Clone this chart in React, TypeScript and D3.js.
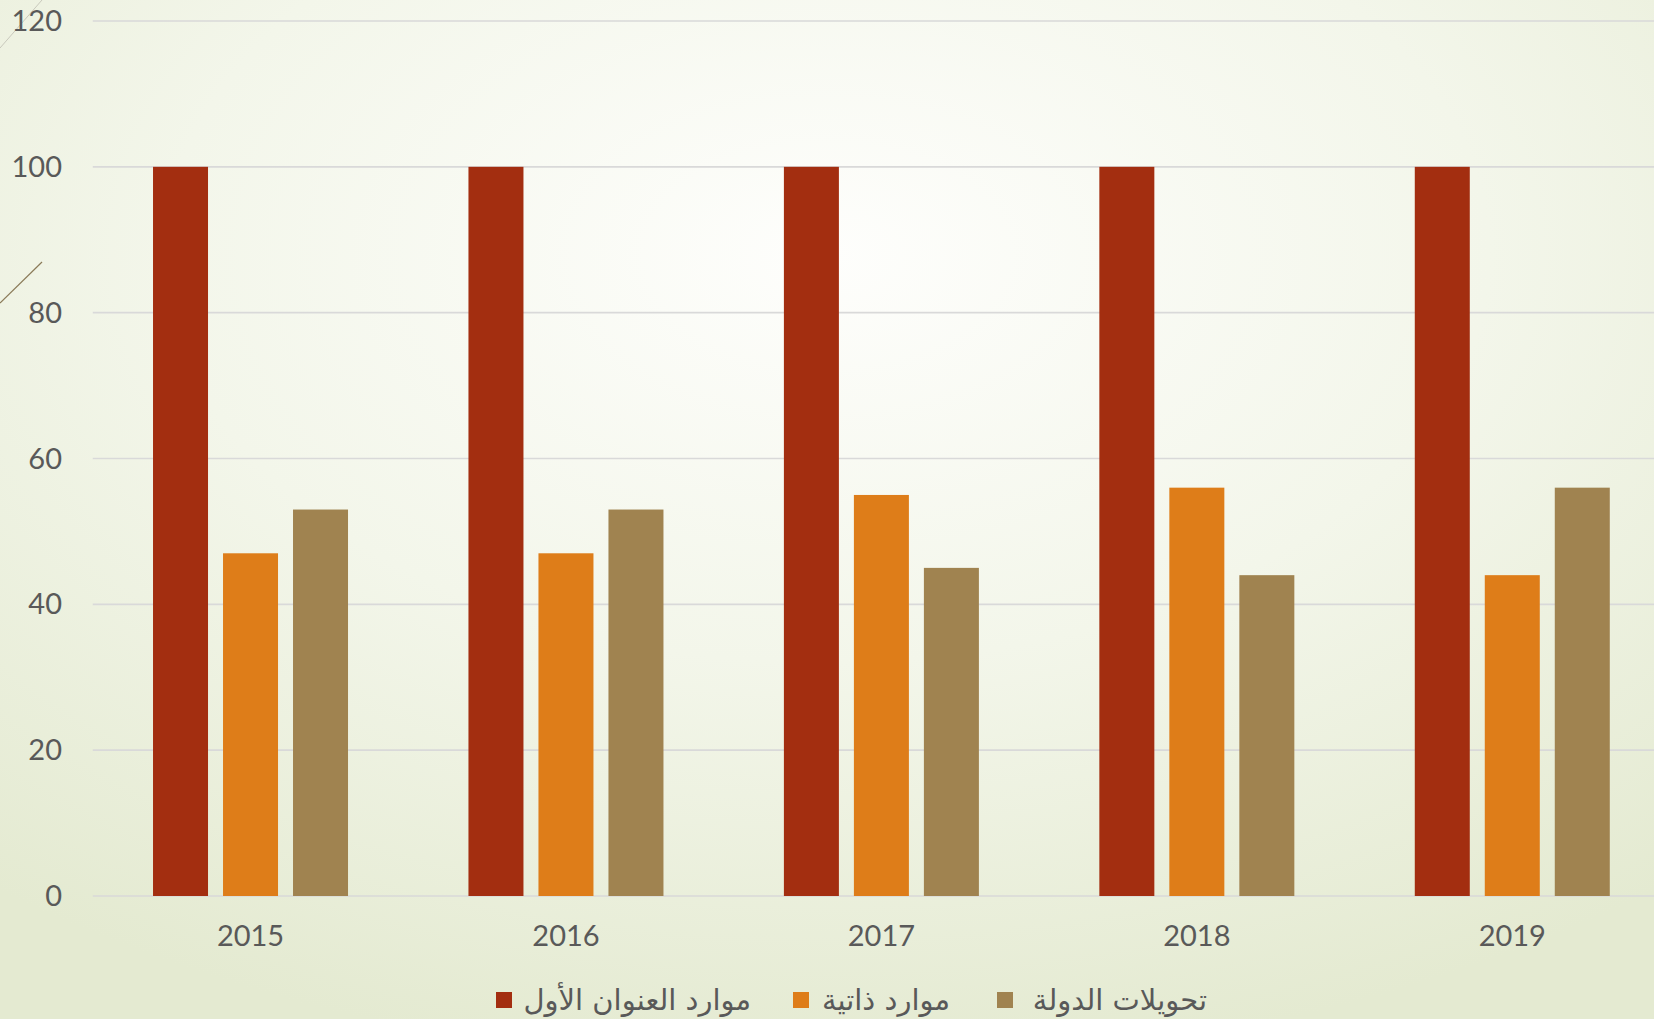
import React from "react";
import * as d3 from "d3";

const years = ["2015", "2016", "2017", "2018", "2019"];
const seriesNames = ["موارد العنوان الأول", "موارد ذاتية", "تحويلات الدولة"];
const seriesTotal = [100, 100, 100, 100, 100];
const seriesOwn = [47, 47, 55, 56, 44];
const seriesState = [53, 53, 45, 44, 56];
const yTicks = [0, 20, 40, 60, 80, 100, 120];
const colors = ["#A32E10", "#DE7D19", "#A08350"];

const W = 1654;
const H = 1019;

export default function App() {
  const series = [seriesTotal, seriesOwn, seriesState];
  const x = d3.scaleBand<string>().domain(years).range([92.8, 1670]).paddingInner(0).paddingOuter(0);
  const groupW = 195;
  const xs = d3.scaleBand<number>().domain([0, 1, 2]).range([0, groupW]).paddingInner(15 / 70).paddingOuter(0);
  const y = d3.scaleLinear().domain([0, 120]).range([896, 21]);

  const legendX = [496, 793, 997];
  const legendW = [234, 136, 189];
  const fontNum = "Lato, 'Open Sans', sans-serif";
  const fontAr = "'DejaVu Sans', 'Noto Sans', sans-serif";

  return (
    <svg width={W} height={H} style={{ position: "absolute", left: 0, top: 0, display: "block" }}>
      <defs>
        <radialGradient id="bg" cx="50%" cy="25%" r="80%" gradientUnits="objectBoundingBox">
          <stop offset="0%" stopColor="#FEFEFC" />
          <stop offset="50%" stopColor="#F3F6EA" />
          <stop offset="100%" stopColor="#E4EAD1" />
        </radialGradient>
      </defs>
      <rect x={0} y={0} width={W} height={H} fill="url(#bg)" />
      <line x1={0} y1={48} x2={42} y2={0} stroke="#c8c8bc" strokeWidth={1} />
      <line x1={0} y1={303} x2={42} y2={262} stroke="#8a7a58" strokeWidth={1.2} />
      {yTicks.map((t) => (
        <g key={t}>
          <line x1={92.8} x2={W} y1={y(t)} y2={y(t)} stroke="#D9D9D9" strokeWidth={1.6} />
          <text x={62} y={y(t)} dy="0.35em" textAnchor="end" fontFamily={fontNum} fontSize={29} fill="#595959">
            {t}
          </text>
        </g>
      ))}
      {years.map((yr, i) => {
        const cx = (x(yr) as number) + x.bandwidth() / 2;
        const gx = cx - groupW / 2;
        return (
          <g key={yr}>
            {series.map((s, j) => (
              <rect
                key={j}
                x={gx + (xs(j) as number)}
                y={y(s[i])}
                width={xs.bandwidth()}
                height={y(0) - y(s[i])}
                fill={colors[j]}
              />
            ))}
            <text x={cx} y={936} dy="0.35em" textAnchor="middle" fontFamily={fontNum} fontSize={29} fill="#595959">
              {yr}
            </text>
          </g>
        );
      })}
      {seriesNames.map((n, j) => (
        <g key={n}>
          <rect x={legendX[j]} y={992} width={16} height={16} fill={colors[j]} />
          <text
            x={legendX[j] + 21 + legendW[j]}
            y={1000}
            dy="0.35em"
            textAnchor="start"
            direction="rtl"
            fontFamily={fontAr}
            fontSize={29}
            fill="#595959"
          >
            {n}
          </text>
        </g>
      ))}
    </svg>
  );
}
